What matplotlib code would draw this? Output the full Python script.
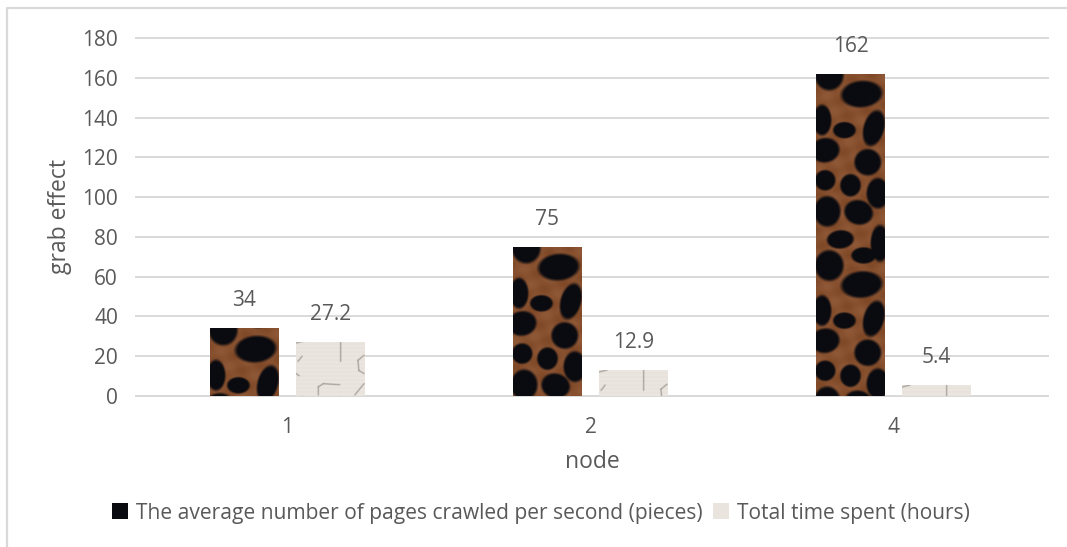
# -*- coding: utf-8 -*-
import numpy as np
from matplotlib import pyplot as plt
from matplotlib.lines import Line2D
from matplotlib.patches import Patch

nodes = ['1', '2', '4']
pages_per_second = [34, 75, 162]
hours_spent = [27.2, 12.9, 5.4]
series_names = ['The average number of pages crawled per second (pieces)',
                'Total time spent (hours)']
y_ticks = list(range(0, 181, 20))

TEXT = '#595959'
GRID = '#d9d9d9'
FUR = '#87502f'
SPOT = '#0a0b10'
PAPER = '#e9e4dd'
INK = '#8f8a82'
SS = 3  # texture samples per pixel


def rgb(hexcol):
    return np.array([int(hexcol[i:i + 2], 16) for i in (1, 3, 5)]) / 255.


def leopardTile(w=68, h=190):
    # brown fur with dark oval spots, wraps vertically
    spots = [(13, 2, 14, 15, 0), (45, 21, 20, 13, -5), (6, 47, 9, 15, 0),
             (28, 57, 11, 8, 0), (57, 55, 10, 18, 15), (9, 77, 14, 12, -10),
             (51, 89, 13, 13, 0), (9, 107, 10, 10, 0), (34, 112, 10, 11, 0),
             (61, 120, 11, 15, 0), (11, 138, 13, 15, 0), (42, 139, 14, 12, 15),
             (24, 166, 13, 9, -5), (63, 170, 9, 18, 0), (47, 182, 12, 8, 0)]
    yy, xx = np.mgrid[0:h * SS, 0:w * SS]
    xx = (xx + .5) / SS
    yy = (yy + .5) / SS
    img = np.ones((h * SS, w * SS, 3)) * rgb(FUR)
    # soft lighter streaks in the fur
    shade = 0.03 * np.sin(xx / 5. + yy / 9.) * np.sin(yy / 4. - xx / 11.)
    img = np.clip(img + shade[..., None], 0, 1)
    for cx, cy, rx, ry, ang in spots:
        t = np.radians(ang)
        dy = (yy - cy + h / 2.) % h - h / 2.
        dx = xx - cx
        u = (dx * np.cos(t) + dy * np.sin(t)) / (rx * 1.12)
        v = (-dx * np.sin(t) + dy * np.cos(t)) / (ry * 1.12)
        a = np.clip((1 - np.sqrt(u ** 2 + v ** 2)) * 5, 0, 1)[..., None]
        img = img * (1 - a) + rgb(SPOT) * a
    return img


def paperTile(w=68, h=54):
    # pale paper with faint pen strokes
    strokes = [[(0, 2), (8, 0)], [(2, 20), (6, 15)], [(44, 0), (44, 20)],
               [(67, 14), (61, 19), (62, 29), (67, 32)], [(0, 32), (3, 34)],
               [(22, 53), (22, 45), (27, 42), (43, 43)], [(58, 53), (67, 42)]]
    yy, xx = np.mgrid[0:h * SS, 0:w * SS]
    xx = (xx + .5) / SS
    yy = (yy + .5) / SS
    img = np.ones((h * SS, w * SS, 3)) * rgb(PAPER)
    img = np.clip(img + (0.008 * np.sin(yy * 1.6))[..., None], 0, 1)
    for line in strokes:
        for (x0, y0), (x1, y1) in zip(line[:-1], line[1:]):
            sx, sy = x1 - x0, y1 - y0
            p = np.clip(((xx - x0) * sx + (yy - y0) * sy) / (sx ** 2 + sy ** 2), 0, 1)
            d = np.hypot(xx - x0 - p * sx, yy - y0 - p * sy)
            a = np.clip(1.1 - d, 0, 1)[..., None] * 0.8
            img = img * (1 - a) + rgb(INK) * a
    return img


def fillBar(ax, bar, tile, px_per_unit):
    # lay the tile over the bar from its top edge down, repeating as needed
    x0, w = bar.get_x(), bar.get_width()
    top = bar.get_height()
    tile_h = tile.shape[0] / float(SS) / px_per_unit
    rows = int(np.ceil(top / tile_h))
    img = np.vstack([tile] * rows)
    im = ax.imshow(img, extent=[x0, x0 + w, top - rows * tile_h, top],
                   aspect='auto', interpolation='antialiased', zorder=3)
    im.set_clip_path(bar)


plt.rcParams['font.family'] = ['Open Sans', 'DejaVu Sans']
W, H = 1067, 547
fig = plt.figure(figsize=(W / 100., H / 100.), dpi=100)
ax = fig.add_axes([136. / W, 1 - 396. / H, 912. / W, 358. / H])

# chart border, only top and left edges show
fig.add_artist(Line2D([7. / W, 7. / W, 1], [0, 1 - 8. / H, 1 - 8. / H],
                      transform=fig.transFigure, color=GRID, lw=1.6))

x = np.arange(len(nodes))
off, wid = 0.142, 0.226
x_range = (-0.5, 2.51)
bars_a = ax.bar(x - off, pages_per_second, wid, color=FUR, zorder=2)
bars_b = ax.bar(x + off, hours_spent, wid, color=PAPER, zorder=2)

ax.set_xticks(x)
ax.set_xticklabels(nodes)
ax.set_yticks(y_ticks)
ax.tick_params(length=0, labelsize=15, labelcolor=TEXT, pad=13)
ax.tick_params(axis='x', pad=15)
ax.grid(axis='y', color=GRID, lw=1.4, zorder=0)
for gl in ax.get_ygridlines():
    gl.set_clip_on(False)
ax.set_axisbelow(True)
for side in ['top', 'right', 'left']:
    ax.spines[side].set_visible(False)
ax.spines['bottom'].set_color(GRID)
ax.spines['bottom'].set_linewidth(1.4)
ax.set_xlabel('node', fontsize=16.5, color=TEXT, labelpad=9)
ax.set_ylabel('grab effect', fontsize=16.5, color=TEXT, labelpad=7)

px_per_unit = 358. / 180
leopard = leopardTile()
paper = paperTile()
for bar in bars_a:
    fillBar(ax, bar, leopard, px_per_unit)
for bar in bars_b:
    fillBar(ax, bar, paper, px_per_unit)
# imshow resets the limits
ax.set_xlim(*x_range)
ax.set_ylim(0, 180)

for bars, vals in [(bars_a, pages_per_second), (bars_b, hours_spent)]:
    for bar, val in zip(bars, vals):
        ax.annotate(str(val), (bar.get_x() + bar.get_width() / 2., val),
                    xytext=(0, 20), textcoords='offset points', ha='center',
                    va='center', fontsize=15, color=TEXT, zorder=4,
                    annotation_clip=False)

handles = [Patch(facecolor=SPOT), Patch(facecolor=PAPER)]
leg = fig.legend(handles, series_names, loc='center', ncol=2,
                 bbox_to_anchor=(541. / W, 1 - 513. / H), frameon=False,
                 fontsize=15.15, labelcolor=TEXT, handlelength=0.75,
                 handleheight=0.75, handletextpad=0.38, columnspacing=0.48)

# small paper swatch on the second legend key
fig.canvas.draw()
box = leg.get_patches()[1].get_window_extent()
sw = fig.add_axes([box.x0 / W, box.y0 / H, box.width / W, box.height / H])
sw.imshow(paper[:16 * SS, :16 * SS], aspect='auto')
sw.axis('off')

plt.savefig('out.png', dpi=100)
